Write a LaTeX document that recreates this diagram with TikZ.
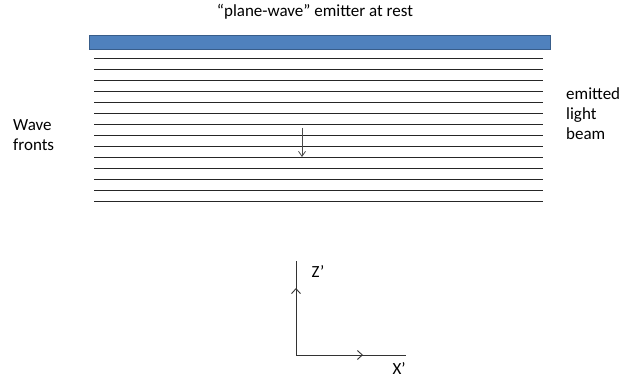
\documentclass[tikz,border=0pt]{standalone}
\usepackage{fontspec}
\setmainfont{Carlito}
\definecolor{emitterblue}{RGB}{79, 129, 189}
\definecolor{emitteredge}{RGB}{56, 93, 138}
\usetikzlibrary{arrows.meta}

\begin{document}
\begin{tikzpicture}[x=1pt,y=-1pt,
    lbl/.style={font=\fontsize{17}{20}\selectfont, inner sep=0pt},
    front/.style={line width=0.9pt, black!85},
    axis/.style={line width=0.9pt, black!80}]
        \useasboundingbox (0,0) rectangle (623,379);

        % emitter and title
        \node[lbl] (title) at (315,12) {“plane-wave” emitter at rest};
        \draw[emitteredge, fill=emitterblue, line width=1pt] (89,36) rectangle (550,50);

        % wave fronts
        \foreach \k in {0,...,13} {
          \draw[front] (94,{58.3+\k*11.0}) -- (543,{58.3+\k*11.0});
        }
        \coordinate (dirtop) at (302,128);
        \coordinate (dirbot) at (302,157);
        \draw[black!70, line width=0.8pt, -{Straight Barb[length=5pt,width=7pt]}] (dirtop) -- (dirbot);

        \node[lbl, align=left, anchor=west] (fronts) at (13,135) {Wave\\fronts};
        \node[lbl, align=left, anchor=west] (beam) at (566,114) {emitted\\light\\beam};

        % axes
        \coordinate (origin) at (296,355);
        \coordinate (zend) at (296,261);
        \coordinate (xend) at (406,355);
        \draw[axis] (origin) -- (zend);
        \draw[axis] (origin) -- (xend);
        \draw[axis, -{Straight Barb[length=5pt,width=9pt]}] (origin) -- ++(0,-67);
        \draw[axis, -{Straight Barb[length=5pt,width=9pt]}] (origin) -- ++(67,0);
        \node[lbl] (zlbl) at (318,272) {Z’};
        \node[lbl] (xlbl) at (399,369) {X’};
      \end{tikzpicture}
\end{document}
